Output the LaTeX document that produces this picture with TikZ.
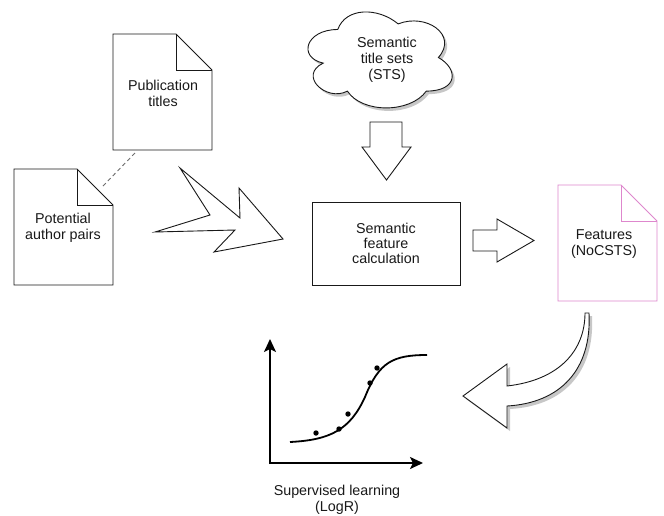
\documentclass[tikz,border=0pt]{standalone}
\usepackage{fontspec}
\setmainfont{Liberation Sans}
\usetikzlibrary{arrows.meta}
\definecolor{ink}{RGB}{25,25,25}
\definecolor{pinkline}{RGB}{222,135,205}
\definecolor{dashgray}{RGB}{110,110,110}
\tikzset{
  shapeline/.style={draw=ink, line width=0.9pt, fill=white, line join=miter},
  lbl/.style={font=\fontsize{14.3}{16}\selectfont, text=ink, align=center, inner sep=0pt},
  boxlbl/.style={font=\fontsize{14.3}{15}\selectfont, text=ink, align=center, inner sep=0pt},
  shadowfill/.style={fill=black, opacity=0.22, draw=none},
  axisline/.style={draw=black, line width=2pt, -{Stealth[length=13pt,width=12pt,inset=3pt]}},
  sigmoid/.style={draw=black, line width=1.8pt},
  datadot/.style={fill=black},
  dashconn/.style={draw=dashgray, line width=0.9pt, dash pattern=on 4pt off 3pt},
}
\newcommand\docshape[6]{%
  \draw[#1] (#2,#3) -- ({#4-#6},#3) -- (#4,{#3+#6}) -- (#4,#5) -- (#2,#5) -- cycle;
  \draw[#1, fill=none] ({#4-#6},#3) -- ({#4-#6},{#3+#6}) -- (#4,{#3+#6});
}
\newcommand\cloudpath{(0.25,0.25) .. controls (0.05,0.25) and (0,0.5) .. (0.16,0.55)
  .. controls (0,0.66) and (0.18,0.9) .. (0.31,0.8)
  .. controls (0.4,1) and (0.7,1) .. (0.8,0.8)
  .. controls (1,0.8) and (1,0.6) .. (0.875,0.5)
  .. controls (1,0.3) and (0.8,0.1) .. (0.625,0.2)
  .. controls (0.5,0.05) and (0.3,0.05) .. (0.25,0.25) -- cycle}
\begin{document}
\begin{tikzpicture}[x=1pt,y=-1pt]
\useasboundingbox (0,0) rectangle (664,515);
\fill[white] (0,0) rectangle (664,515);

% documents
\docshape{shapeline}{113}{34}{212}{150}{36}
\node[lbl] (pub) at (163,93) {Publication\\titles};
\docshape{shapeline}{14}{169}{113}{285}{36}
\node[lbl] (pap) at (63,228) {Potential\\author pairs};
\docshape{shapeline,draw=pinkline}{558}{185}{657}{301}{36}
\node[lbl] (feat) at (604,244) {Features\\(NoCSTS)};

% dashed connector between the two documents
\coordinate (pubfoot) at (135,153);
\coordinate (papfold) at (102,187);
\draw[dashconn] (pubfoot) -- (papfold);

% zigzag block arrow
\draw[shapeline] (180,168) -- (210,215) -- (155,232) -- (235,230) -- (214,252)
  -- (283,239) -- (239,188) -- (240,218) -- cycle;

% cloud
\begin{scope}[shift={(300,4.5)}, x=161pt, y=-112pt]
  \path[shadowfill] \cloudpath;
\end{scope}
\begin{scope}[shift={(297.5,1.5)}, x=161pt, y=-112pt]
  \draw[shapeline] \cloudpath;
\end{scope}
\node[lbl] (sts) at (387,60) {Semantic\\title sets\\(STS)};

% down block arrow
\draw[shapeline] (370,122) -- (402,122) -- (402,147) -- (411,147) -- (386.5,180)
  -- (362,147) -- (370,147) -- cycle;

% process box
\node[shapeline, boxlbl, minimum width=148pt, minimum height=83pt] (sfc) at (386,243.5)
  {Semantic\\feature\\calculation};

% right block arrow
\draw[shapeline] (473,230) -- (497,230) -- (497,219) -- (534,240.5) -- (497,262)
  -- (497,251) -- (473,251) -- cycle;

% curved block arrow with shadow
\path[shadowfill] (466,399) -- (510,367) -- (510,389) .. controls (563,383) and (588,353) .. (588,316)
  -- (592,316) .. controls (595,373) and (563,406) .. (510,409) -- (510,431) -- cycle;
\draw[shapeline] (463,396) -- (507,364) -- (507,386) .. controls (560,380) and (585,350) .. (585,313)
  -- (589,313) .. controls (592,370) and (560,403) .. (507,406) -- (507,428) -- cycle;

% graph
\coordinate (orig) at (270,463);
\coordinate (ytip) at (270,339);
\coordinate (xtip) at (423,463);
\draw[axisline] ([yshift=-1pt]orig) -- (ytip);
\draw[axisline] ([xshift=-1pt]orig) -- (xtip);
\draw[sigmoid] (290,442) .. controls (330,440) and (350,430) .. (365,397)
  .. controls (379,362) and (393,355) .. (427,355);
\foreach \px/\py in {316/433, 339/429, 348/414, 370/383, 377/368}
  \fill[datadot] (\px,\py) circle (2.7pt);
\node[lbl] (sl) at (337,500) {Supervised learning\\(LogR)};
\end{tikzpicture}
\end{document}
